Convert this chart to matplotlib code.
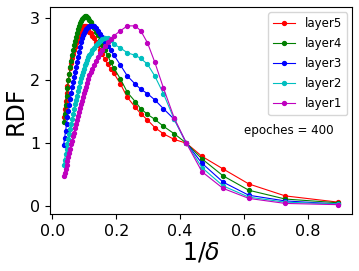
import matplotlib
matplotlib.use('Agg')
import matplotlib.pyplot as plt

# 1/delta grid shared by all layers
inv_delta = [0.035, 0.038, 0.041, 0.044, 0.047, 0.050, 0.053, 0.056, 0.059, 0.062,
             0.065, 0.068, 0.071, 0.074, 0.077, 0.080, 0.083, 0.086, 0.089, 0.092,
             0.095, 0.098, 0.101, 0.104, 0.108, 0.112, 0.116, 0.120, 0.125, 0.130,
             0.136, 0.142, 0.149, 0.156, 0.164, 0.173, 0.182, 0.192, 0.2125, 0.235,
             0.26, 0.277, 0.298, 0.321, 0.348, 0.382, 0.42, 0.469, 0.535, 0.616,
             0.73, 0.897]

rdf_layer5 = [1.42, 1.55, 1.68, 1.80, 1.91, 2.01, 2.11, 2.20, 2.28, 2.35,
              2.42, 2.48, 2.54, 2.60, 2.65, 2.70, 2.74, 2.78, 2.81, 2.83,
              2.85, 2.86, 2.86, 2.86, 2.84, 2.81, 2.78, 2.75, 2.71, 2.67,
              2.62, 2.56, 2.49, 2.42, 2.34, 2.26, 2.19, 2.12, 1.95, 1.73,
              1.57, 1.47, 1.37, 1.25, 1.15, 1.06, 1.00, 0.79, 0.59, 0.35,
              0.16, 0.06]
rdf_layer4 = [1.33, 1.47, 1.61, 1.75, 1.88, 2.00, 2.11, 2.21, 2.31, 2.40,
              2.48, 2.56, 2.63, 2.70, 2.76, 2.82, 2.87, 2.91, 2.95, 2.98,
              3.00, 3.01, 3.02, 3.02, 3.01, 2.99, 2.96, 2.93, 2.89, 2.84,
              2.78, 2.72, 2.65, 2.57, 2.49, 2.40, 2.30, 2.20, 2.03, 1.81,
              1.66, 1.55, 1.46, 1.38, 1.27, 1.15, 1.00, 0.75, 0.48, 0.25,
              0.11, 0.05]
rdf_layer3 = [0.97, 1.08, 1.19, 1.30, 1.41, 1.51, 1.61, 1.71, 1.80, 1.89,
              1.98, 2.06, 2.14, 2.22, 2.30, 2.38, 2.46, 2.54, 2.61, 2.67,
              2.72, 2.76, 2.79, 2.82, 2.84, 2.85, 2.86, 2.87, 2.87, 2.86,
              2.83, 2.79, 2.74, 2.69, 2.62, 2.55, 2.48, 2.41, 2.25, 2.07,
              1.94, 1.86, 1.79, 1.69, 1.55, 1.38, 1.00, 0.68, 0.38, 0.17,
              0.08, 0.03]
rdf_layer2 = [0.66, 0.74, 0.82, 0.90, 0.98, 1.06, 1.14, 1.22, 1.30, 1.38,
              1.46, 1.54, 1.62, 1.69, 1.76, 1.83, 1.90, 1.97, 2.04, 2.09,
              2.14, 2.19, 2.24, 2.28, 2.33, 2.37, 2.41, 2.44, 2.48, 2.52,
              2.56, 2.60, 2.63, 2.66, 2.68, 2.68, 2.64, 2.58, 2.52, 2.44,
              2.40, 2.35, 2.26, 2.07, 1.79, 1.38, 1.00, 0.61, 0.32, 0.14,
              0.06, 0.03]
rdf_layer1 = [0.47, 0.53, 0.59, 0.65, 0.72, 0.78, 0.85, 0.91, 0.98, 1.04,
              1.11, 1.17, 1.24, 1.30, 1.37, 1.43, 1.50, 1.56, 1.62, 1.68,
              1.74, 1.80, 1.85, 1.90, 1.96, 2.02, 2.08, 2.13, 2.19, 2.25,
              2.31, 2.37, 2.43, 2.49, 2.55, 2.61, 2.66, 2.71, 2.79, 2.87,
              2.87, 2.79, 2.60, 2.29, 1.88, 1.40, 1.00, 0.545, 0.28, 0.12,
              0.04, 0.02]

layers = ['layer5', 'layer4', 'layer3', 'layer2', 'layer1']
series = [rdf_layer5, rdf_layer4, rdf_layer3, rdf_layer2, rdf_layer1]
colors = ['r', 'g', 'b', 'c', 'm']

fig = plt.figure(figsize=(3.59, 2.71), dpi=100)
ax = fig.add_axes([0.139, 0.21, 0.842, 0.764])

for lab, ys, col in zip(layers, series, colors):
    ax.plot(inv_delta, ys, color=col, marker='o', markersize=2.8,
            linewidth=0.8, label=lab)

ax.text(0.6, 1.15, 'epoches = 400', fontsize=8.6)
ax.legend(loc='upper right', fontsize=8.5, handlelength=1.9,
          labelspacing=0.6, borderaxespad=0.45)

ax.set_xlabel(r'1/$\delta$', fontsize=17, labelpad=1)
ax.set_ylabel('RDF', fontsize=17, labelpad=2)
ax.tick_params(labelsize=11.5)

fig.savefig('out.png', dpi=100)
